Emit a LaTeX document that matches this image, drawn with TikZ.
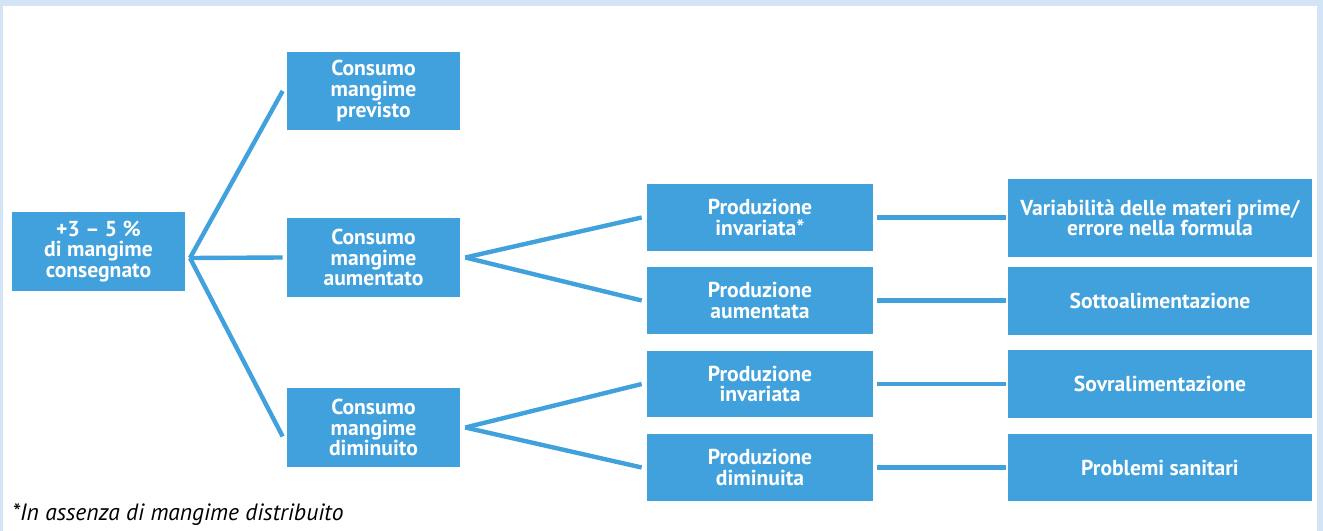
\documentclass[tikz,border=0pt]{standalone}
\usepackage{fontspec}
\setsansfont{PT Sans}
\usetikzlibrary{positioning,calc}
\definecolor{BoxBlue}{RGB}{64,161,220}
\definecolor{FrameBlue}{RGB}{211,228,246}
\tikzset{
  box/.style={rectangle,fill=BoxBlue,text=white,inner sep=0pt,align=center,
    font=\sffamily\bfseries\fontsize{12.3}{11.8}\selectfont},
  cbox/.style={box,minimum width=3.46cm,minimum height=1.58cm},
  pbox/.style={box,minimum width=4.52cm,minimum height=1.34cm},
  rbox/.style={box,minimum width=6.08cm,minimum height=1.36cm},
}
\tikzset{link/.style={draw=BoxBlue,line width=2.5pt}, note/.style={font=\sffamily\itshape\fontsize{13.4}{15}\selectfont,inner sep=0pt}}

\begin{document}
\begin{tikzpicture}[x=0.02cm,y=-0.02cm]
\fill[FrameBlue] (0,0) rectangle (1323,531);
\fill[white] (3,6) rectangle (1317,531);
\node[cbox] (root) at (98.5,251.5) {+3 -- 5 \%\\di mangime\\consegnato};
\node[cbox] (cprev) at (373.5,91) {Consumo\\mangime\\previsto};
\node[cbox] (caum) at (373.5,257.5) {Consumo\\mangime\\aumentato};
\node[cbox] (cdim) at (373.5,427.5) {Consumo\\mangime\\diminuito};
\node[pbox] (p1) at (760,217.5) {Produzione\\invariata*};
\node[pbox] (p2) at (760,300.5) {Produzione\\aumentata};
\node[pbox] (p3) at (760,384) {Produzione\\invariata};
\node[pbox] (p4) at (760,467.5) {Produzione\\diminuita};
\node[rbox,minimum height=1.56cm] (r1) at (1160,218) {Variabilità delle materi prime/\\errore nella formula};
\node[rbox] (r2) at (1160,301) {Sottoalimentazione};
\node[rbox] (r3) at (1160,384) {Sovralimentazione};
\node[rbox] (r4) at (1160,467.5) {Problemi sanitari};
\node[note,anchor=base west] (fn) at (12,520) {*In assenza di mangime distribuito};
\coordinate (j0) at (190,258);
\coordinate (j1) at ([xshift=0.1cm]caum.east);
\coordinate (j2) at ([xshift=0.1cm]cdim.east);
\draw[link] (j0) -- ([xshift=-0.08cm]cprev.west);
\draw[link] (j0) -- ([xshift=-0.08cm]caum.west);
\draw[link] (j0) -- ([shift={(-0.08cm,-0.18cm)}]cdim.west);
\draw[link] (j1) -- ([xshift=-0.1cm]p1.west);
\draw[link] (j1) -- ([xshift=-0.1cm]p2.west);
\draw[link] (j2) -- ([xshift=-0.1cm]p3.west);
\draw[link] (j2) -- ([xshift=-0.1cm]p4.west);
\draw[link] ([xshift=0.08cm]p1.east) -- ([xshift=-0.04cm]r1.west|-p1.east);
\draw[link] ([xshift=0.08cm]p2.east) -- ([xshift=-0.04cm]r2.west|-p2.east);
\draw[link] ([xshift=0.08cm]p3.east) -- ([xshift=-0.04cm]r3.west|-p3.east);
\draw[link] ([xshift=0.08cm]p4.east) -- ([xshift=-0.04cm]r4.west|-p4.east);
\end{tikzpicture}
\end{document}
